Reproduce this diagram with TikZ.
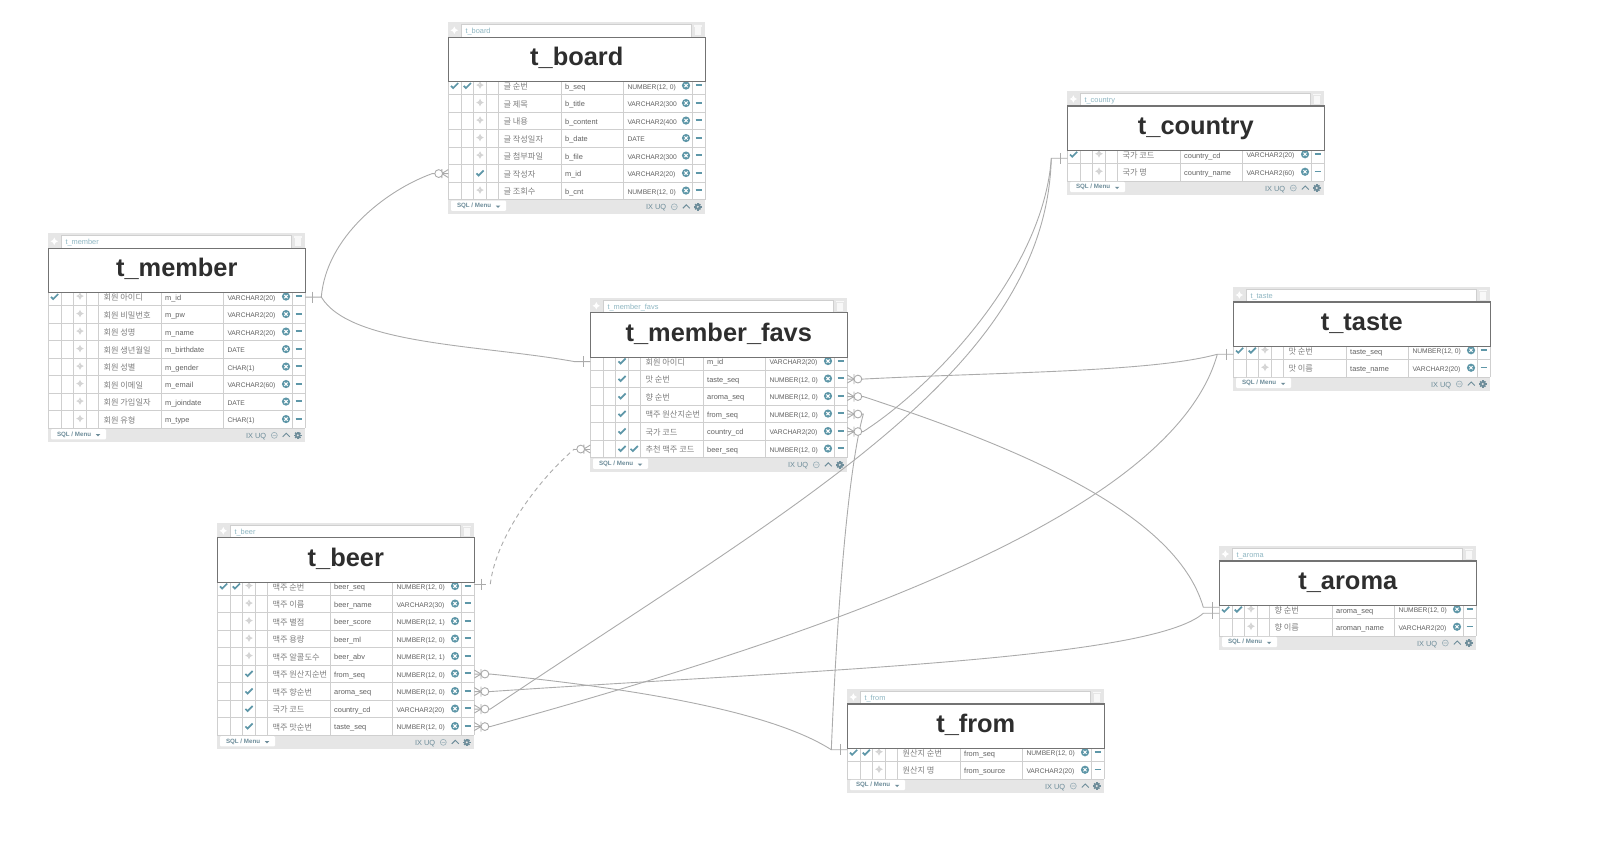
\documentclass[tikz,border=0pt]{standalone}
\usepackage{fontspec}
\setmainfont{Liberation Sans}
\newfontfamily\korfont{Noto Sans CJK KR}
\usetikzlibrary{calc}
\catcode`\_=12

\definecolor{bandgrey}{HTML}{E6E6E6}
\definecolor{gridgrey}{HTML}{CFCFCF}
\definecolor{relgrey}{HTML}{ABABAB}
\definecolor{iconteal}{HTML}{5E97A8}
\definecolor{toolgrey}{HTML}{6E8D9A}

\tikzset{
  band/.style={fill=bandgrey},
  grid line/.style={draw=gridgrey,line width=.8},
  titlebox/.style={draw=black!55,line width=1.1,fill=white,minimum width=257,minimum height=44.5,inner sep=0,
    text height=18,text depth=6,text=black!82,font=\fontsize{25.4}{30}\bfseries\selectfont},
  kortext/.style={anchor=base west,inner sep=0,text=black!50,font=\korfont\fontsize{8.2}{10}\selectfont},
  fldtext/.style={anchor=base west,inner sep=0,text=black!62,font=\fontsize{7.4}{9}\selectfont},
  typtext/.style={anchor=base west,inner sep=0,text=black!62,font=\fontsize{6.7}{9}\selectfont},
  inptext/.style={anchor=base west,inner sep=0,text=iconteal!70,font=\fontsize{7.4}{9}\selectfont},
  btntext/.style={anchor=base west,inner sep=0,text=toolgrey,font=\fontsize{6.2}{8}\bfseries\selectfont},
  tooltext/.style={anchor=base west,inner sep=0,text=toolgrey,font=\fontsize{7.4}{9}\selectfont},
  rel/.style={draw=relgrey,line width=.9},
  pics/chk/.style={code={\draw[iconteal,line width=1.7] (-3.6,-.2) -- (-1.4,2) -- (3.6,-3);}},
  pics/mover/.style={code={\draw[#1,line width=.8,<->,>=stealth] (-3.8,0) -- (3.8,0);
    \draw[#1,line width=.8,<->,>=stealth] (0,-3.8) -- (0,3.8);}},
  pics/xcirc/.style={code={\fill[iconteal] (0,0) circle (4.1);
    \draw[white,line width=1] (-1.6,-1.6) -- (1.6,1.6) (-1.6,1.6) -- (1.6,-1.6);}},
  pics/minusbar/.style={code={\draw[iconteal,line width=1.7] (-3.4,0) -- (3.4,0);}},
  pics/trash/.style={code={\fill[white!70!bandgrey] (-3,-3) rectangle (3,5); \fill[white!70!bandgrey] (-4,-5) rectangle (4,-3.7);}},
  pics/gear/.style={code={\foreach \a in {0,45,90,135} \fill[toolgrey,rotate=\a] (-.8,-3.7) rectangle (.8,3.7);
    \fill[toolgrey] (0,0) circle (2.8); \fill[bandgrey] (0,0) circle (1.1);}},
  pics/barmark/.style={code={\draw[rel] (0,-5.5) -- (0,5.5);}},
  pics/crowr/.style={code={\draw[rel] (0,-4) -- (6.7,0) -- (0,4) (6.7,-5) -- (6.7,5);
    \draw[rel,fill=white] (10.6,0) circle (3.9);}},
  pics/crowl/.style={code={\draw[rel] (0,-4) -- (-6.5,0) -- (0,4) (-6.5,-4.5) -- (-6.5,4.5);
    \draw[rel,fill=white] (-9.6,0) circle (3.9);}},
}

\def\numa{NUMBER(12, 0)}
\def\numb{NUMBER(12, 1)}

% name, left, top, number of rows, rows
\newcommand{\ertable}[5]{
\begin{scope}[shift={(#2,#3)}]
\pgfmathsetmacro{\rowend}{59.5+13+17.5*(#4-1)}
\fill[band] (0,0) rectangle (257,\rowend+14);
\fill[white] (0,59.5) rectangle (257,\rowend);
\foreach \x in {0,13.3,25.3,38.3,50.3,113.3,175,244.3,257}
  \draw[grid line] (\x,59.5) -- (\x,\rowend);
\foreach \kor/\fld/\typ/\mk [count=\i] in {#5} {
  \pgfmathsetmacro{\ry}{63.75+17.5*(\i-1)}
  \draw[grid line] (0,\ry+8.75) -- (257,\ry+8.75);
  \if a\mk \pic at (6.3,\ry) {chk}; \fi
  \if b\mk \pic at (6.3,\ry) {chk}; \pic at (19,\ry) {chk}; \fi
  \if d\mk \pic at (31.7,\ry) {chk}; \else
    \if e\mk \pic at (31.7,\ry) {chk}; \pic at (43.9,\ry) {chk}; \else
      \pic at (31.7,\ry-1) {mover=black!17};
    \fi
  \fi
  \node[kortext,name=#1-\i-k] at (55,\ry+3.5) {\kor};
  \node[fldtext,name=#1-\i-f] at (116.7,\ry+3.3) {\fld};
  \node[typtext,name=#1-\i-t] at (179,\ry+3.1) {\typ};
  \pic at (237.7,\ry-.5) {xcirc};
  \pic at (250.6,\ry-.8) {minusbar};
  \coordinate (#1-\i-l) at (0,\ry);
  \coordinate (#1-\i-r) at (257,\ry);
  \coordinate (#1-\i-ls) at (-16,\ry);
  \coordinate (#1-\i-rs) at (273,\ry);
}
\pic at (6,8) {mover=white};
\fill[white] (13.3,2.3) rectangle (242.7,15);
\draw[gridgrey,line width=.5] (13.3,2.3) rectangle (242.7,15);
\node[inptext,name=#1-inp] at (17,11.2) {#1};
\pic at (249.5,8) {trash};
\node[titlebox,name=#1] at (128.5,37.25) {#1};
\fill[white,rounded corners=1] (2.7,\rowend+.8) rectangle (57.7,\rowend+11);
\node[btntext,name=#1-btn] at (8.5,\rowend+7.8) {SQL / Menu};
\fill[toolgrey] (47.5,\rowend+5.8) -- (52,\rowend+5.8) -- (49.75,\rowend+8) -- cycle;
\node[tooltext,name=#1-ix] at (197.5,\rowend+10) {IX};
\node[tooltext,name=#1-uq] at (206.5,\rowend+10) {UQ};
\draw[toolgrey!70,line width=.6] (226,\rowend+7) circle (3) (224.3,\rowend+7) -- (227.7,\rowend+7);
\draw[toolgrey,line width=.9] (234.5,\rowend+8.5) -- (238,\rowend+5) -- (241.5,\rowend+8.5);
\pic at (249.5,\rowend+7) {gear};
\end{scope}}

\begin{document}
\begin{tikzpicture}[x=1pt,y=-1pt]
\useasboundingbox (0,0) rectangle (1605,846);

\ertable{t_board}{448.3}{22.3}{7}{
  글 순번/b_seq/\numa/b, 글 제목/b_title/VARCHAR2(300/c, 글 내용/b_content/VARCHAR2(400/c,
  글 작성일자/b_date/DATE/c, 글 첨부파일/b_file/VARCHAR2(300/c, 글 작성자/m_id/VARCHAR2(20)/d,
  글 조회수/b_cnt/\numa/c}
\ertable{t_member}{48.3}{233.3}{8}{
  회원 아이디/m_id/VARCHAR2(20)/a, 회원 비밀번호/m_pw/VARCHAR2(20)/c, 회원 성명/m_name/VARCHAR2(20)/c,
  회원 생년월일/m_birthdate/DATE/c, 회원 성별/m_gender/CHAR(1)/c, 회원 이메일/m_email/VARCHAR2(60)/c,
  회원 가입일자/m_joindate/DATE/c, 회원 유형/m_type/CHAR(1)/c}
\ertable{t_member_favs}{590.3}{297.8}{6}{
  회원 아이디/m_id/VARCHAR2(20)/d, 맛 순번/taste_seq/\numa/d, 향 순번/aroma_seq/\numa/d,
  맥주 원산지순번/from_seq/\numa/d, 국가 코드/country_cd/VARCHAR2(20)/d, 추천 맥주 코드/beer_seq/\numa/e}
\ertable{t_beer}{217.3}{522.8}{9}{
  맥주 순번/beer_seq/\numa/b, 맥주 이름/beer_name/VARCHAR2(30)/c, 맥주 별점/beer_score/\numb/c,
  맥주 용량/beer_ml/\numa/c, 맥주 알콜도수/beer_abv/\numb/c, 맥주 원산지순번/from_seq/\numa/d,
  맥주 향순번/aroma_seq/\numa/d, 국가 코드/country_cd/VARCHAR2(20)/d, 맥주 맛순번/taste_seq/\numa/d}
\ertable{t_country}{1067.3}{91}{2}{
  국가 코드/country_cd/VARCHAR2(20)/a, 국가 명/country_name/VARCHAR2(60)/c}
\ertable{t_taste}{1233.3}{287}{2}{
  맛 순번/taste_seq/\numa/b, 맛 이름/taste_name/VARCHAR2(20)/c}
\ertable{t_aroma}{1219.3}{546}{2}{
  향 순번/aroma_seq/\numa/b, 향 이름/aroman_name/VARCHAR2(20)/c}
\ertable{t_from}{847.3}{689}{2}{
  원산지 순번/from_seq/\numa/b, 원산지 명/from_source/VARCHAR2(20)/c}

\coordinate (beer_out) at ($(t_beer-1-r)+(16,-2.5)$);
\coordinate (country_in) at ($(t_country-1-l)+(-16,3.5)$);
\coordinate (taste_in) at ($(t_taste-1-l)+(-16,3.5)$);
\coordinate (aroma_ina) at ($(t_aroma-1-l)+(-16,-2.5)$);
\coordinate (aroma_inb) at ($(t_aroma-1-l)+(-16,3.5)$);
\coordinate (from_in) at ($(t_from-1-l)+(-16,-3)$);

\draw[rel] (t_member-1-r) -- (t_member-1-rs) .. controls +(5,-60) and +(-47,17) .. (t_board-6-ls) -- (t_board-6-l);
\draw[rel] (t_member-1-rs) .. controls +(29,48) and +(-95,-17) .. (t_member_favs-1-ls) -- (t_member_favs-1-l);
\draw[rel] (t_member_favs-2-r) -- (t_member_favs-2-rs) .. controls +(137,-7) and +(-66,18) .. (taste_in) -- +(16,0);
\draw[rel] (t_beer-9-r) -- (t_beer-9-rs) .. controls +(310,-86) and +(-46,166) .. (taste_in);
\draw[rel] (t_member_favs-3-r) -- (t_member_favs-3-rs) .. controls +(147,48.5) and +(-28,-97) .. (aroma_ina) -- +(16,0);
\draw[rel] (t_beer-7-r) -- (t_beer-7-rs) .. controls +(310,-21) and +(-53,47) .. (aroma_inb) -- +(16,0);
\draw[rel] (t_member_favs-4-r) -- (t_member_favs-4-rs) .. controls +(-18,66) and +(4,-99) .. (from_in) -- +(16,0);
\draw[rel] (t_beer-6-r) -- (t_beer-6-rs) .. controls +(160,16) and +(-56,-36) .. (from_in);
\draw[rel] (t_member_favs-5-r) -- (t_member_favs-5-rs) .. controls +(72,-46.5) and +(-8,112) .. (country_in) -- +(16,0);
\draw[rel] (t_beer-8-r) -- (t_beer-8-rs) .. controls +(310,-208) and +(-6,212) .. (country_in);
\draw[rel] (beer_out) ++(-16,0) -- +(12,0);
\draw[rel,dash pattern=on 4.5 off 3.5] (beer_out) .. controls +(6,-49) and +(-34,29) .. (t_member_favs-6-ls);
\draw[rel] (t_member_favs-6-ls) -- (t_member_favs-6-l);

\foreach \a in {t_member-1-r} \pic at ($(\a)+(6.7,0)$) {barmark};
\pic at ($(beer_out)+(-9.3,0)$) {barmark};
\foreach \a in {t_member_favs-1-l} \pic at ($(\a)+(-6.7,0)$) {barmark};
\foreach \a in {taste_in,aroma_ina,aroma_inb,from_in,country_in} \pic at ($(\a)+(9.3,0)$) {barmark};
\foreach \a in {t_member_favs-2-r,t_member_favs-3-r,t_member_favs-4-r,t_member_favs-5-r,t_beer-6-r,t_beer-7-r,t_beer-8-r,t_beer-9-r}
  \pic at (\a) {crowr};
\foreach \a in {t_board-6-l,t_member_favs-6-l} \pic at (\a) {crowl};
\end{tikzpicture}
\end{document}
